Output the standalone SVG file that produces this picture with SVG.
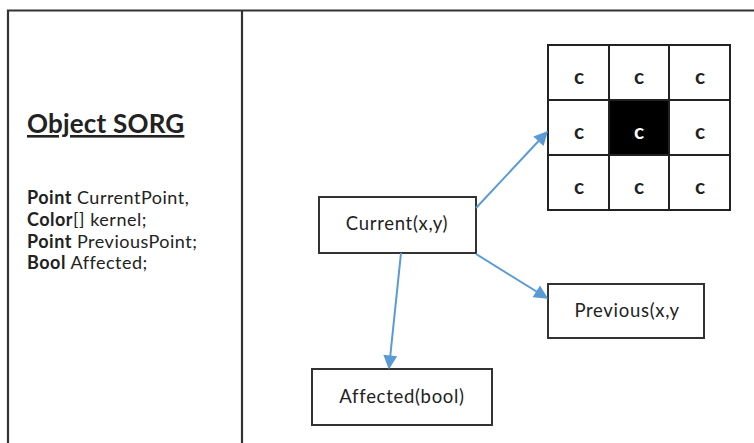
<svg xmlns="http://www.w3.org/2000/svg" width="754" height="443" viewBox="0 0 754 443">
  <style>
    .frame { fill: none; stroke: #333; stroke-width: 2.2; }
    .box { fill: #fff; stroke: #333; stroke-width: 2; }
    .cell { fill: #fff; stroke: #222; stroke-width: 2; }
    .label { font-family: Lato, "Open Sans", "Liberation Sans", sans-serif; font-size: 18.5px; letter-spacing: 0.7px; fill: #222; text-anchor: middle; }
    .c { font-family: Lato, "Open Sans", "Liberation Sans", sans-serif; font-size: 21px; font-weight: bold; fill: #222; text-anchor: middle; }
    .attr { font-family: Lato, "Open Sans", "Liberation Sans", sans-serif; font-size: 18px; letter-spacing: 0.5px; fill: #222; }
    .conn { stroke: #5b9bd5; stroke-width: 2; fill: none; marker-end: url(#arrow); }
  </style>
  <defs>
    <marker id="arrow" viewBox="0 0 10 10" refX="9" refY="5" markerWidth="8" markerHeight="7" markerUnits="strokeWidth" orient="auto">
      <path d="M0,0 L10,5 L0,10 z" fill="#5b9bd5"/>
    </marker>
  </defs>

  <rect width="754" height="443" fill="#fff"/>

  <!-- outer frame and divider -->
  <g id="frame">
    <path class="frame" d="M8,443 V10.5 H754"/>
    <line class="frame" x1="242" y1="10.5" x2="242" y2="443"/>
  </g>

  <!-- class description panel -->
  <g id="object-sorg">
    <text x="27" y="133" font-family="Lato, 'Open Sans', 'Liberation Sans', sans-serif" font-size="26" letter-spacing="0.2" font-weight="bold" fill="#222" text-decoration="underline">Object SORG</text>
    <text class="attr" x="27" y="204"><tspan font-weight="bold">Point</tspan> CurrentPoint,</text>
    <text class="attr" x="27" y="226"><tspan font-weight="bold">Color</tspan>[] kernel;</text>
    <text class="attr" x="27" y="248"><tspan font-weight="bold">Point</tspan> PreviousPoint;</text>
    <text class="attr" x="27" y="269"><tspan font-weight="bold">Bool</tspan> Affected;</text>
  </g>

  <!-- 3x3 kernel grid -->
  <g id="kernel">
    <rect class="cell" x="548" y="45" width="61" height="55"/>
    <rect class="cell" x="609" y="45" width="60" height="55"/>
    <rect class="cell" x="669" y="45" width="61" height="55"/>
    <rect class="cell" x="548" y="100" width="61" height="55"/>
    <rect class="cell" x="609" y="100" width="60" height="55" style="fill:#000"/>
    <rect class="cell" x="669" y="100" width="61" height="55"/>
    <rect class="cell" x="548" y="155" width="61" height="55"/>
    <rect class="cell" x="609" y="155" width="60" height="55"/>
    <rect class="cell" x="669" y="155" width="61" height="55"/>
    <text class="c" x="579" y="84">c</text>
    <text class="c" x="639" y="84">c</text>
    <text class="c" x="700" y="84">c</text>
    <text class="c" x="579" y="139">c</text>
    <text class="c" x="639" y="139" style="fill:#fff">c</text>
    <text class="c" x="700" y="139">c</text>
    <text class="c" x="579" y="194">c</text>
    <text class="c" x="639" y="194">c</text>
    <text class="c" x="700" y="194">c</text>
  </g>

  <g id="current">
    <rect class="box" x="319" y="197" width="157" height="56"/>
    <text class="label" x="397" y="230">Current(x,y)</text>
  </g>

  <g id="previous">
    <rect class="box" x="548" y="284" width="156" height="54"/>
    <text class="label" x="627" y="317">Previous(x,y</text>
  </g>

  <g id="affected">
    <rect class="box" x="312" y="369" width="180" height="56"/>
    <text class="label" x="402" y="403">Affected(bool)</text>
  </g>

  <g id="connectors">
    <line class="conn" x1="476" y1="208" x2="547" y2="132"/>
    <line class="conn" x1="476" y1="254" x2="547" y2="298"/>
    <line class="conn" x1="401" y1="253" x2="389" y2="368"/>
  </g>
</svg>
